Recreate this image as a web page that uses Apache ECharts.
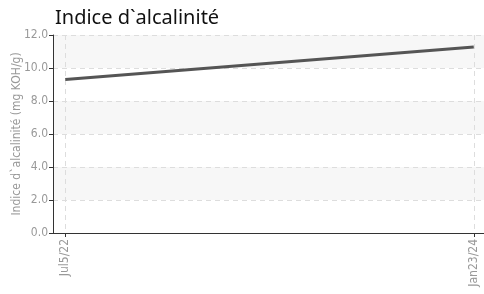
<!DOCTYPE html>
<html>
<head>
<meta charset="utf-8">
<script src="https://cdn.jsdelivr.net/npm/echarts@6/dist/echarts.min.js"></script>
<style>
  html, body { margin: 0; padding: 0; background: #fff; }
  #chart { width: 484px; height: 294px; }
</style>
</head>
<body>
<div id="chart"></div>
<script>
// data
var dateLabels = ["Jul5/22", "Jan23/24"];
var positions = [0, 1];
var alkValues = [9.3, 11.27];

var narrow = "'DejaVu Sans Condensed', 'Liberation Sans Narrow', sans-serif";

var chart = echarts.init(document.getElementById("chart"));
chart.setOption({
  animation: false,
  title: {
    text: "Indice d`alcalinité",
    left: 50,
    top: 3,
    textStyle: {
      color: "#111",
      fontSize: 20,
      fontWeight: "normal",
      fontFamily: "'Noto Sans', sans-serif"
    }
  },
  grid: {
    left: 53,
    right: 0,
    top: 35,
    bottom: 61,
    outerBoundsMode: "none"
  },
  xAxis: {
    type: "value",
    min: -0.03,
    max: 1.025,
    axisLine: { onZero: false, lineStyle: { color: "#333", width: 1 } },
    axisTick: {
      customValues: positions,
      length: 4,
      lineStyle: { color: "#333" }
    },
    axisLabel: {
      customValues: positions,
      rotate: 90,
      color: "#999",
      fontSize: 12,
      fontFamily: narrow,
      margin: 6,
      formatter: function (v) {
        return dateLabels[Math.round(v)];
      }
    },
    splitLine: {
      show: true,
      lineStyle: { color: "#ddd", type: [5, 4] }
    }
  },
  yAxis: {
    type: "value",
    min: 0,
    max: 12,
    interval: 2,
    name: "Indice d`alcalinité (mg KOH/g)",
    nameLocation: "middle",
    nameGap: 30,
    nameMoveOverlap: false,
    nameTextStyle: {
      color: "#999",
      fontSize: 12,
      fontFamily: narrow
    },
    axisLine: { show: true, onZero: false, lineStyle: { color: "#333", width: 1 } },
    axisTick: { show: true, length: 4, lineStyle: { color: "#333" } },
    axisLabel: {
      color: "#999",
      fontSize: 12,
      fontFamily: narrow,
      margin: 5,
      formatter: function (v) { return v.toFixed(1); }
    },
    splitLine: {
      lineStyle: { color: "#ddd", type: [5, 4] }
    },
    splitArea: {
      show: true,
      areaStyle: { color: ["#ffffff", "#f7f7f7"] }
    }
  },
  series: [
    {
      type: "line",
      data: positions.map(function (p, i) { return [p, alkValues[i]]; }),
      showSymbol: false,
      lineStyle: { color: "#555", width: 3 }
    }
  ]
});
</script>
</body>
</html>
